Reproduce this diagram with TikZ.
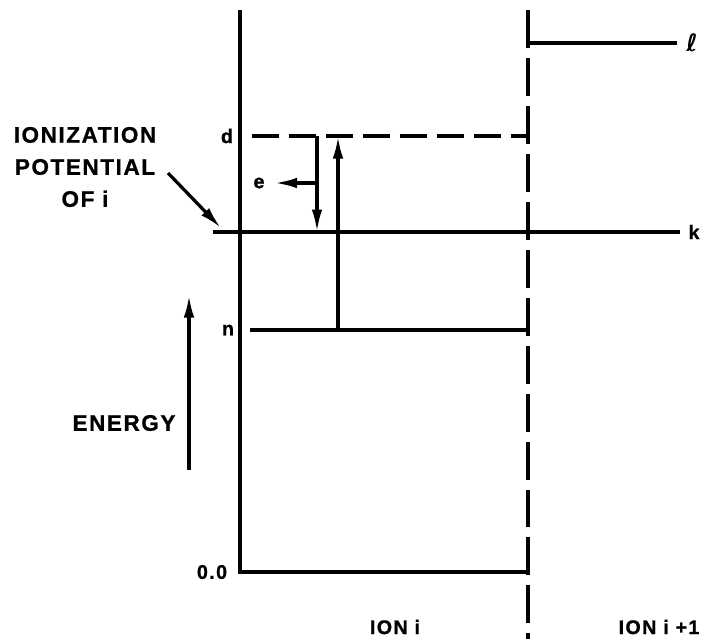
\documentclass[tikz,border=0pt]{standalone}
\usepackage{fontspec}
\setmainfont{Liberation Sans}
\newfontfamily\lblfont{Liberation Sans Bold}[LetterSpace=7, FakeBold=1]
\newfontfamily\ellfont{DejaVu Sans Bold}
\usepackage{tikz}
\usetikzlibrary{positioning}
\usetikzlibrary{arrows,arrows.meta}
\tikzstyle{level} = [line width=2.3pt]
\tikzstyle{dlevel} = [line width=2.3pt, dash pattern=on 19.2pt off 7.1pt]
\tikzstyle{sep} = [line width=2.3pt, dash pattern=on 27pt off 7.1pt]
\tikzstyle{lbl} = [inner sep=0pt, font=\lblfont\fontsize{14}{16}\selectfont]
\tikzstyle{biglbl} = [inner sep=0pt, font=\lblfont\fontsize{16}{22.8}\selectfont]
\tikzstyle{coord} = [coordinate]

\begin{document}
\begin{tikzpicture}[x=0.025cm, y=-0.025cm, >={Latex[length=16pt,width=7.5pt]}]
	\useasboundingbox (0,0) rectangle (701,639);
	% levels of ion i and ion i+1
	\node [coord] (top) at (240,10) {};
	\node [coord] (zero) at (240,572) {};
	\node [coord] (zeroR) at (528,572) {};
	\node [coord] (sepT) at (528,10) {};
	\node [coord] (sepB) at (528,639) {};
	\node [coord] (dL) at (252,136) {};
	\node [coord] (dR) at (528,136) {};
	\node [coord] (kL) at (213,232) {};
	\node [coord] (kR) at (680,232) {};
	\node [coord] (lL) at (528,43) {};
	\node [coord] (lR) at (677,43) {};
	\node [coord] (nL) at (250,330) {};
	\node [coord] (nR) at (528,330) {};

	\node [lbl] (d) at (227,136) {d};
	\node [lbl] (n) at (228,330) {n};
	\node [lbl] (zerolbl) at (212,572) {0.0};
	\node [lbl] (k) at (694,232) {k};
	\node [lbl] (ell) at (692,43) {\ellfont\fontsize{17}{18}\selectfont ℓ};
	\node [lbl] (e) at (259,183) {e};
	\node [biglbl, align=center] (ionpot) at (85,167) {IONIZATION\\POTENTIAL\\OF i};
	\node [biglbl] (energy) at (124,423) {ENERGY};
	\node [lbl] (ioni) at (395,627) {ION i};
	\node [lbl] (ionj) at (659,627) {ION i +1};

	% transitions
	\node [coord] (down1) at (317,136) {};
	\node [coord] (down2) at (317,232) {};
	\node [coord] (eb) at (317,183) {};
	\node [coord] (up1) at (338,330) {};
	\node [coord] (up2) at (338,136) {};
	\node [coord] (ionS) at (168,173) {};
	\node [coord] (ionT) at (221,228) {};
	\node [coord] (enB) at (189,470) {};
	\node [coord] (enT) at (189,295) {};

	\draw [level] (top) -- (zero) -- (zeroR);
	\draw [sep] (sepT) -- (sepB);
	\draw [dlevel] (dL) -- (dR);
	\draw [level] (kL) -- (kR);
	\draw [level] (lL) -- (lR);
	\draw [level] (nL) -- (nR);
	\draw [level, ->] (down1) -- (down2);
	\draw [level, ->, shorten >=7] (eb) -- (e);
	\draw [level, ->] (up1) -- (up2);
	\draw [level, ->] (ionS) -- (ionT);
	\draw [level, ->] (enB) -- (enT);

\end{tikzpicture}
\end{document}
